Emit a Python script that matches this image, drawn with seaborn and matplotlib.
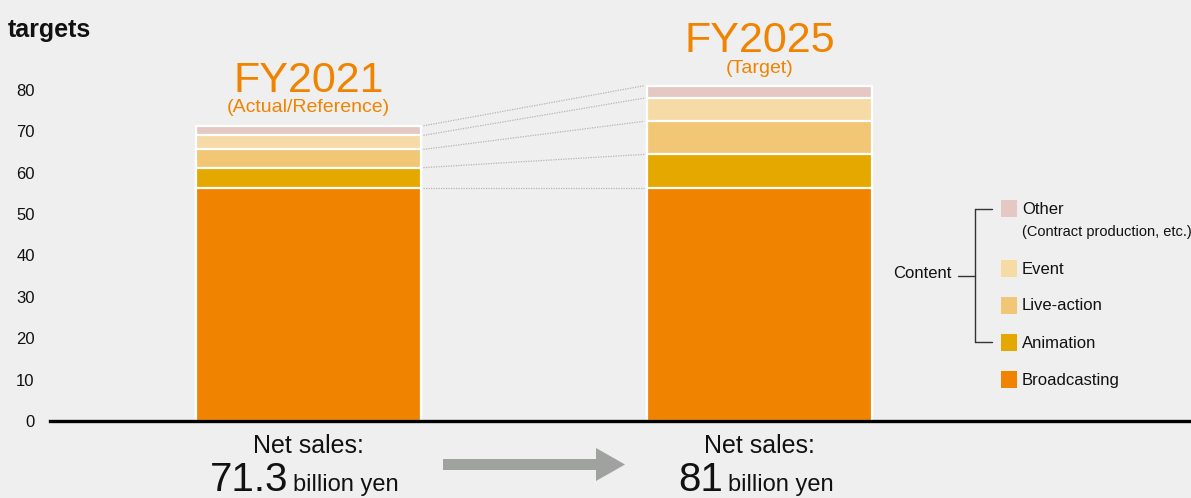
import pandas as pd
import seaborn as sns
import matplotlib.pyplot as plt
from matplotlib.lines import Line2D
from matplotlib.patches import Rectangle, Polygon

# Data (billion yen)
years = ['FY2021', 'FY2025']
segments = ['Broadcasting', 'Animation', 'Live-action', 'Event', 'Other']
fy2021 = [56.2, 5.0, 4.4, 3.4, 2.3]
fy2025 = [56.2, 8.2, 8.0, 5.6, 3.0]
colors = ['#f08300', '#e5a800', '#f1c776', '#f6dba6', '#e5c8c3']
totals = ['71.3', '81']
subtitles = ['(Actual/Reference)', '(Target)']
yticks = [0, 10, 20, 30, 40, 50, 60, 70, 80]

bg = '#efefef'
orange = '#f08300'

sns.set_theme(style='white')
plt.rcParams['font.family'] = ['Liberation Sans', 'DejaVu Sans']

# Long table with cumulative tops per year
df = pd.DataFrame({
    'year': [y for y in years for _ in segments],
    'segment': segments * 2,
    'value': fy2021 + fy2025,
})
df['top'] = df.groupby('year')['value'].cumsum()

fig = plt.figure(figsize=(11.91, 4.98), dpi=100, facecolor=bg)
ax = fig.add_axes([50 / 1191, 77 / 498, 1 - 50 / 1191, 90 * 4.14 / 498])
ax.set_facecolor(bg)

# Stacked bars: draw cumulative tops from the highest down
for seg, col in reversed(list(zip(segments, colors))):
    sub = df[df['segment'] == seg]
    sns.barplot(data=sub, x='year', y='top', order=years, color=col,
                width=0.5, edgecolor='white', linewidth=1.6,
                errorbar=None, saturation=1, ax=ax)

# Dotted connectors between the bars
tops21 = df[df['year'] == years[0]]['top'].tolist()
tops25 = df[df['year'] == years[1]]['top'].tolist()
for a, b in zip(tops21, tops25):
    ax.plot([0.255, 0.745], [a, b], ls=(0, (1, 1)), color='#b5b5b5', lw=0.9)

ax.set_xlim(-0.573, 1.957)
ax.set_ylim(0, 90)
ax.set_yticks(yticks)
ax.set_xticks([])
ax.set_xlabel('')
ax.set_ylabel('')
ax.tick_params(axis='y', length=0, pad=11, labelsize=12, labelcolor='#111111')
for s in ['top', 'right', 'left']:
    ax.spines[s].set_visible(False)
ax.spines['bottom'].set_color('black')
ax.spines['bottom'].set_linewidth(2.4)

# Year headings
ax.text(0, 79.5, years[0], ha='center', va='baseline', fontsize=31, color=orange)
ax.text(0, 75.8, subtitles[0], ha='center', va='center', fontsize=14, color=orange)
ax.text(1, 89.1, years[1], ha='center', va='baseline', fontsize=31, color=orange)
ax.text(1, 85.2, subtitles[1], ha='center', va='center', fontsize=14, color=orange)

# Title (partially cut off at left edge in original)
fig.text(8 / 1191, 1 - 30 / 498, 'targets', ha='left', va='center',
         fontsize=18, fontweight='bold', color='#111111')

# Net sales captions
def fx(px):
    return px / 1191

def fy(py):
    return 1 - py / 498

for cx, tot, split in [(308, totals[0], 290), (759, totals[1], 725)]:
    fig.text(fx(cx), fy(453), 'Net sales:', ha='center', va='baseline',
             fontsize=18, color='#111111')
    fig.text(fx(split - 2), fy(491), tot, ha='right', va='baseline',
             fontsize=29, color='#111111')
    fig.text(fx(split + 3), fy(491), 'billion yen', ha='left', va='baseline',
             fontsize=17, color='#111111')

# Grey arrow between the captions
arrow_px = [(443, 459), (596, 459), (596, 448), (625, 464.5),
            (596, 481), (596, 470), (443, 470)]
fig.add_artist(Polygon([(fx(x), fy(y)) for x, y in arrow_px], closed=True,
                       transform=fig.transFigure, facecolor='#a0a2a0',
                       edgecolor='none'))

# Manual legend
legend_rows = [('Other', 200), ('Event', 260), ('Live-action', 297),
               ('Animation', 334), ('Broadcasting', 371)]
col_of = dict(zip(segments, colors))
for name, top in legend_rows:
    fig.add_artist(Rectangle((fx(1001), fy(top + 17)), 16 / 1191, 17 / 498,
                             transform=fig.transFigure,
                             facecolor=col_of[name], edgecolor='none'))
    fig.text(fx(1022), fy(top + 9), name, ha='left', va='center',
             fontsize=12, color='#111111')
fig.text(fx(1022), fy(232), '(Contract production, etc.)', ha='left',
         va='center', fontsize=10.5, color='#111111')

# Bracket grouping the content segments
bracket = [([975, 975], [209, 342]), ([975, 992], [209, 209]),
           ([975, 992], [342, 342]), ([958, 975], [276, 276])]
for xs, ys in bracket:
    fig.add_artist(Line2D([fx(x) for x in xs], [fy(y) for y in ys],
                          transform=fig.transFigure, color='#333333', lw=1))
fig.text(fx(952), fy(274), 'Content', ha='right', va='center',
         fontsize=12, color='#111111')

fig.savefig('out.png', dpi=100, facecolor=bg)
